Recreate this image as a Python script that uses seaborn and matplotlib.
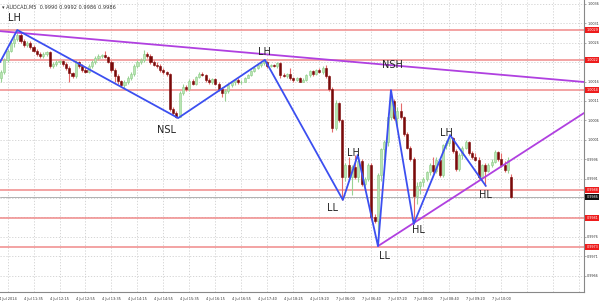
import numpy as np
import pandas as pd
import matplotlib
matplotlib.use("Agg")
import matplotlib.pyplot as plt
import seaborn as sns

sns.set_style("white")
plt.rcParams['font.family'] = ['DejaVu Sans']

# ---- data (prices in 1/10000 units) ----
opens = [10017, 10018.5, 10021.5, 10024, 10026, 10027, 10028, 10026.5, 10025.5, 10026,
         10025, 10024, 10023, 10022.5, 10023, 10023.5, 10020, 10020.5, 10021, 10021.2,
         10020.5, 10019.5, 10018.2, 10017.5, 10021, 10020, 10019, 10018.6, 10020, 10021,
         10022, 10022.5, 10022.8, 10022.3, 10021, 10019, 10017.5, 10016.2, 10015, 10016,
         10017, 10018, 10020, 10021, 10021.5, 10023, 10022.6, 10021, 10020.3, 10020,
         10019, 10018.5, 10018, 10009, 10008, 10007, 10013, 10014.5, 10014, 10016.2,
         10015.4, 10017.3, 10018, 10017.8, 10016.5, 10016, 10016.6, 10015.5, 10014, 10013,
         10013.6, 10015, 10015.8, 10016.3, 10015.8, 10016, 10017, 10017.8, 10018.8, 10019.5,
         10020.2, 10020.8, 10021, 10020, 10020.2, 10020, 10020.7, 10017.8, 10017.5, 10017.9,
         10016.8, 10016.5, 10017, 10016, 10016.5, 10017.7, 10018.7, 10018, 10019, 10018.5,
         10019.5, 10017.5, 10014, 10004, 10010.5, 10006, 9991.5, 9994.5, 9991.5, 9994,
         9991.5, 9995.5, 9989.5, 9991, 9994.5, 9981, 9980, 9992, 9998.5, 10000.5,
         10007, 10011, 10006.5, 10008.5, 10006.8, 10002.5, 9999, 9996, 9986.5, 9989,
         9990, 9991, 9992.6, 9994.5, 9993, 9995.8, 9992, 9999.6, 10000.2, 10001.5,
         9998, 9993.5, 9997, 9999, 10000.5, 9997.5, 9996.5, 9995.8, 9991.5, 9994.5,
         9993, 9994.5, 9995.3, 9997.8, 9996, 9994.5, 9993.2, 9991.5]
highs = [10019, 10022, 10024.5, 10026.5, 10028, 10029.3, 10028.5, 10027, 10026.5, 10026.5,
         10025.5, 10024.5, 10023.5, 10023.5, 10024, 10024, 10021, 10021.5, 10021.5, 10021.5,
         10021, 10020, 10018.5, 10021.5, 10021.3, 10020.5, 10019.8, 10020.5, 10021.5, 10022.5,
         10023, 10023, 10024, 10022.5, 10021.5, 10019.5, 10018, 10016.5, 10016.5, 10017.5,
         10018.5, 10020.5, 10021.5, 10022, 10024.1, 10023.5, 10023, 10021.5, 10021, 10020.5,
         10019.5, 10018.8, 10018.3, 10009.5, 10008.5, 10013.5, 10015.5, 10015, 10016.6, 10016.6,
         10017.5, 10018.5, 10018.5, 10018, 10017, 10017, 10017, 10015.8, 10014.5, 10014,
         10015.5, 10016, 10016.5, 10016.8, 10016.5, 10017.2, 10018, 10019, 10019.8, 10020.5,
         10021, 10021.6, 10021.3, 10020.6, 10020.6, 10021, 10021, 10018.3, 10018.2, 10019.5,
         10017.2, 10017.2, 10017.2, 10016.8, 10018, 10019, 10019, 10019.3, 10019.6, 10020,
         10020.3, 10017.8, 10014.5, 10011.2, 10010.8, 10006.3, 9995, 9996.5, 9994.5, 9997.1,
         9996, 9996, 9991.5, 9995, 9995, 9981.8, 9992.5, 9999, 10001, 10008,
         10013.8, 10011.5, 10009.5, 10010.5, 10007.2, 10003, 9999.5, 9996.5, 9990, 9990.5,
         9991.5, 9993, 9995, 9996.5, 9996.5, 9996, 10000, 10001, 10002.2, 10001.8,
         9998.5, 9997.5, 9999.5, 10001, 10000.8, 9998, 9997.5, 9996.5, 9994.8, 9995,
         9995, 9996, 9998.4, 9998, 9997.5, 9995.5, 9996.5, 9992.3]
lows = [10016, 10018, 10021, 10023.5, 10025, 10026.5, 10026, 10025, 10025, 10024.5,
        10023.5, 10022.5, 10022, 10022, 10022.5, 10019.5, 10019.5, 10020, 10020.5, 10020,
        10019, 10015.9, 10017, 10017, 10019.5, 10018.5, 10018.2, 10018.3, 10019.5, 10020.5,
        10021.5, 10022, 10022, 10020.8, 10018.5, 10016, 10015.5, 10014.5, 10014, 10015.5,
        10016.5, 10017.5, 10019.5, 10020.5, 10021, 10022, 10020.5, 10020, 10019.5, 10018.5,
        10018, 10017.5, 10008.5, 10007.5, 10006.6, 10006.8, 10012.5, 10013.5, 10013.5, 10015,
        10015, 10017, 10017.5, 10016, 10015.5, 10015.5, 10015.2, 10013.5, 10012, 10011,
        10013, 10014.5, 10015, 10015.5, 10015.4, 10015.8, 10016.8, 10017.5, 10018.5, 10019.2,
        10019.8, 10020.3, 10019.5, 10019.8, 10019.8, 10019.5, 10017, 10017.3, 10017, 10016.5,
        10016, 10016.2, 10015.8, 10015.8, 10016.2, 10017.3, 10017.5, 10017.8, 10018.2, 10018,
        10017, 10013.5, 10003, 10003.5, 10005.5, 9985.5, 9990.5, 9991, 9986.8, 9991,
        9990, 9989, 9989, 9990.5, 9980.3, 9979.5, 9973.6, 9990.5, 9995, 9999.5,
        10006, 10006, 10004.5, 10006.3, 10002, 9998.5, 9995.5, 9979.3, 9984.5, 9987,
        9989, 9990.5, 9992, 9992.5, 9992.5, 9991.5, 9991.5, 9998.5, 9999.5, 9997.5,
        9993, 9993, 9996, 9998.5, 9997, 9996, 9995.5, 9991, 9990.5, 9989.1,
        9992.8, 9994, 9995, 9995.5, 9994, 9992.8, 9992.5, 9986]
closes = [10018.5, 10021.5, 10024, 10026, 10027, 10028, 10026.5, 10025.5, 10026, 10025,
          10024, 10023, 10022.5, 10023, 10023.5, 10020, 10020.5, 10021, 10021.2, 10020.5,
          10019.5, 10018.2, 10017.5, 10021, 10020, 10019, 10018.6, 10020, 10021, 10022,
          10022.5, 10022.8, 10022.3, 10021, 10019, 10017.5, 10016.2, 10015, 10016, 10017,
          10018, 10020, 10021, 10021.5, 10023, 10022.6, 10021, 10020.3, 10020, 10019,
          10018.5, 10018, 10009, 10008, 10007, 10013, 10014.5, 10014, 10016.2, 10015.4,
          10017.3, 10018, 10017.8, 10016.5, 10016, 10016.6, 10015.5, 10014, 10013, 10013.6,
          10015, 10015.8, 10016.3, 10015.8, 10016, 10017, 10017.8, 10018.8, 10019.5, 10020.2,
          10020.8, 10021, 10020, 10020.2, 10020, 10020.7, 10017.8, 10017.5, 10017.9, 10016.8,
          10016.5, 10017, 10016, 10016.5, 10017.7, 10018.7, 10018, 10019, 10018.5, 10019.5,
          10017.5, 10014, 10004, 10010.5, 10006, 9991.5, 9994.5, 9991.5, 9994, 9991.5,
          9995.5, 9989.5, 9991, 9994.5, 9981, 9980, 9992, 9998.5, 10000.5, 10007,
          10011, 10006.5, 10008.5, 10006.8, 10002.5, 9999, 9996, 9986.5, 9989, 9990,
          9991, 9992.6, 9994.5, 9993, 9995.8, 9992, 9999.6, 10000.2, 10001.5, 9998,
          9993.5, 9997, 9999, 10000.5, 9997.5, 9996.5, 9995.8, 9991.5, 9994.5, 9993,
          9994.5, 9995.3, 9997.8, 9996, 9994.5, 9993.2, 9995.8, 9986.2]

time_labels = ["4 Jul 2014", "4 Jul 11:35", "4 Jul 12:15", "4 Jul 12:55", "4 Jul 13:35",
               "4 Jul 14:15", "4 Jul 14:55", "4 Jul 15:35", "4 Jul 16:15", "4 Jul 16:55",
               "4 Jul 17:40", "4 Jul 18:25", "4 Jul 19:20", "7 Jul 06:00", "7 Jul 06:40",
               "7 Jul 07:20", "7 Jul 08:00", "7 Jul 08:40", "7 Jul 09:20", "7 Jul 10:00"]
label_bars = [2, 10, 18, 26, 34, 42, 50, 58, 66, 74, 82, 90, 98, 106, 114, 122, 130, 138, 146, 154]

y_ticks = [10036, 10031, 10026, 10021, 10016, 10011, 10006, 10001, 9996, 9991, 9986, 9981, 9976, 9971, 9966]
levels = [10029.3, 10021.6, 10013.8, 9988.0, 9980.8, 9973.4]
last_price = 9986.2

zz_bar = [-0.3, 5, 54.5, 81.2, 105.2, 109.8, 116, 120, 127, 138.2, 149.2]
zz_price = [10021, 10029.3, 10006.6, 10021.6, 9985.5, 9997.1, 9973.6, 10013.8, 9979.3, 10002.2, 9989.1]

res_bar = [-0.3, 179.4]
res_price = [10029.0, 10015.9]
sup_bar = [116, 179.4]
sup_price = [9973.6, 10007.9]

swing_text = ["LH", "NSL", "LH", "NSH", "LH", "LL", "LL", "HL", "LH", "HL"]
swing_bar = [4, 51, 81.2, 120.6, 108.3, 102, 118, 128.3, 137.2, 149]
swing_price = [10032.4, 10003.5, 10023.6, 10020.3, 9997.6, 9983.4, 9971, 9977.7, 10002.7, 9986.8]

P = 1e4
o = np.array(opens) / P
h = np.array(highs) / P
l = np.array(lows) / P
c = np.array(closes) / P
bars = np.arange(len(o))

fig = plt.figure(figsize=(6.0, 3.02), dpi=100)
ax = fig.add_axes([0, 10 / 302, 584 / 600, 292 / 302])
ax.set_facecolor("white")

x_lo, x_hi = -0.31, 179.4
y_hi, y_lo = 1.003703, 0.996177
ax.set_xlim(x_lo, x_hi)
ax.set_ylim(y_lo, y_hi)

grid_col = "#cfcfcf"
for gx in np.arange(2, 180, 8):
    ax.axvline(gx, color=grid_col, lw=0.6, ls=(0, (1.5, 2)), zorder=0)
for gy in y_ticks:
    ax.axhline(gy / P, color=grid_col, lw=0.6, ls=(0, (1.5, 2)), zorder=0)

# horizontal levels
for lv in levels:
    ax.axhline(lv / P, color="#f08a8a", lw=1.1, zorder=1)
ax.axhline(last_price / P, color="#b0b0b0", lw=0.7, zorder=1)

# candles
bull = c >= o
wick_cols = np.where(bull, "#9ad394", "#e46a6a")
body_cols = np.where(bull, "#b9e4b3", "#7a0a0a")
edge_cols = np.where(bull, "#8fcd89", "#7a0a0a")
ax.vlines(bars, l, h, colors=wick_cols, lw=0.8, zorder=2)
body_h = np.maximum(np.abs(c - o), 0.000015)
ax.bar(bars, body_h, bottom=np.minimum(o, c), width=0.62, color=body_cols,
       edgecolor=edge_cols, linewidth=0.4, zorder=3)

# trend lines
sns.lineplot(x=res_bar, y=np.array(res_price) / P, ax=ax, color="#b040e0", lw=1.3,
             sort=False, estimator=None, zorder=4)
sns.lineplot(x=sup_bar, y=np.array(sup_price) / P, ax=ax, color="#b040e0", lw=1.3,
             sort=False, estimator=None, zorder=4)
sns.lineplot(x=zz_bar, y=np.array(zz_price) / P, ax=ax, color="#3c4ff0", lw=1.3,
             sort=False, estimator=None, zorder=5)

for t, bx, py in zip(swing_text, swing_bar, swing_price):
    ax.text(bx, py / P, t, fontsize=7, color="#222222", ha="center", va="center", zorder=6)

# axes styling
for s in ["left", "top"]:
    ax.spines[s].set_visible(False)
for s in ["right", "bottom"]:
    ax.spines[s].set_color("#888888")
    ax.spines[s].set_linewidth(0.8)

ax.set_xticks(label_bars)
ax.set_xticklabels(time_labels, fontsize=2.5, color="#333333")
ax.tick_params(axis="x", length=2, width=0.5, pad=1.5, color="#888888")

# y tick labels; the ones hidden behind level boxes are left out as in the terminal
marked = levels + [last_price]
shown = [v for v in y_ticks if min(abs(v - m) for m in marked) > 1.6]
ax.yaxis.tick_right()
ax.set_yticks([v / P for v in y_ticks])
ax.set_yticklabels([f"{v / P:.4f}" if v in shown else "" for v in y_ticks],
                   fontsize=2.4, color="#333333")
ax.tick_params(axis="y", length=1.5, width=0.5, pad=0.8, color="#888888")
ax.set_xlabel("")
ax.set_ylabel("")
if ax.get_legend() is not None:
    ax.get_legend().remove()

trans = ax.get_yaxis_transform()
for lv in levels:
    ax.text(1.004, lv / P, f"{lv / P:.4f}", transform=trans, fontsize=2.4, color="white",
            ha="left", va="center", zorder=10, clip_on=False,
            bbox=dict(boxstyle="square,pad=0.3", fc="#ee1c1c", ec="none"))
ax.text(1.004, last_price / P, f"{last_price / P:.4f}", transform=trans, fontsize=2.4,
        color="white", ha="left", va="center", zorder=10, clip_on=False,
        bbox=dict(boxstyle="square,pad=0.3", fc="#111111", ec="none"))

fig.text(0.004, 0.985, "\u25BE AUDCAD,M5  0.9990 0.9992 0.9986 0.9986", fontsize=3.6,
         color="#333333", ha="left", va="top")

fig.savefig("out.png", dpi=100, facecolor="white")
